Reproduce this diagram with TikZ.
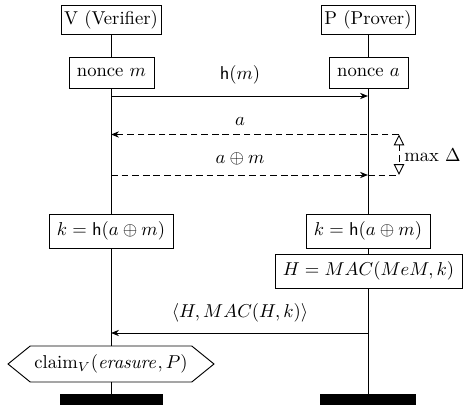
\documentclass[tikz,border=0pt]{standalone}
\usetikzlibrary{arrows.meta,shapes.symbols}
\newlength\pxu
\setlength\pxu{0.537pt}
\begin{document}
\begin{tikzpicture}[x=\pxu,y=-\pxu,
  box/.style={draw,line width=0.5pt,inner sep=0pt,minimum width=#1\pxu},
  bar/.style={fill=black,draw=none,inner sep=0pt,minimum width=#1\pxu,minimum height=11\pxu},
  life/.style={line width=0.5pt},
  msg/.style={line width=0.5pt,-{Stealth[length=4.3pt,width=3.4pt]}},
  dpat/.style={dash pattern=on 3.6pt off 2.1pt},
  dmsg/.style={msg,dpat},
  deltaarr/.style={line width=0.5pt,dash pattern=on 3.3pt off 2.3pt,
    {Triangle[open,length=5.8pt,width=5.6pt]}-{Triangle[open,length=5.8pt,width=5.6pt]}},
  lbl/.style={inner sep=0pt}]
\useasboundingbox (0,0) rectangle (464,406);
% lifeline heads
\node[box=100,minimum height=29\pxu] (V) at (111,19.5) {V (Verifier)};
\node[box=94,minimum height=29\pxu] (P) at (368,19.5) {P (Prover)};
\node[box=85,minimum height=31\pxu] (nm) at (111.5,72.5) {nonce $m$};
\node[box=79,minimum height=31\pxu] (na) at (368.5,72.5) {nonce $a$};
\node[box=124,minimum height=34\pxu] (kV) at (111,231) {$k=\mathsf{h}(a\oplus m)$};
\node[box=124,minimum height=34\pxu] (kP) at (368,231) {$k=\mathsf{h}(a\oplus m)$};
\node[box=187,minimum height=34\pxu] (H) at (368.5,271) {$H=MAC(MeM,k)$};
\node[draw,line width=0.5pt,shape=signal,signal to=west and east,signal pointer angle=78,
  inner sep=0pt,minimum width=206\pxu,minimum height=36\pxu] (claim) at (111,364)
  {claim$_V(\mathit{erasure},P)$};
\node[bar=103] (eV) at (111.5,399.5) {};
\node[bar=96] (eP) at (368,399.5) {};
% lifelines
\draw[life] (V.south -| 111,0) -- (nm.north -| 111,0);
\draw[life] (nm.south -| 111,0) -- (kV.north -| 111,0);
\draw[life] (kV.south -| 111,0) -- (claim.north -| 111,0);
\draw[life] (claim.south -| 111,0) -- (eV.north -| 111,0);
\draw[life] (P.south -| 368,0) -- (na.north -| 368,0);
\draw[life] (na.south -| 368,0) -- (kP.north -| 368,0);
\draw[life] (kP.south -| 368,0) -- (H.north -| 368,0);
\draw[life] (H.south -| 368,0) -- (eP.north -| 368,0);
% message points
\coordinate (m1V) at (111,96); \coordinate (m1P) at (368,96);
\coordinate (m2V) at (111,134.5); \coordinate (m2D) at (399,134.5);
\coordinate (m3V) at (111,175); \coordinate (m3P) at (368,175); \coordinate (m3D) at (399,175);
\coordinate (m4V) at (111,333); \coordinate (m4P) at (368,333);
% messages
\draw[msg] (m1V) -- (m1P);
\node[lbl] (l1) at (240,75) {$\mathsf{h}(m)$};
\draw[dmsg] (m2D) -- (m2V);
\node[lbl] (l2) at (240,121) {$a$};
\draw[dmsg] (m3V) -- (m3P);
\draw[life,dpat] (m3P) -- (m3D);
\node[lbl] (l3) at (240,159) {$a\oplus m$};
\draw[deltaarr] (m2D) -- (m3D);
\node[lbl,anchor=west] (ld) at (404,155) {max $\Delta$};
\draw[msg] (m4P) -- (m4V);
\node[lbl] (l4) at (240,313) {$\langle H,MAC(H,k)\rangle$};
\end{tikzpicture}
\end{document}
